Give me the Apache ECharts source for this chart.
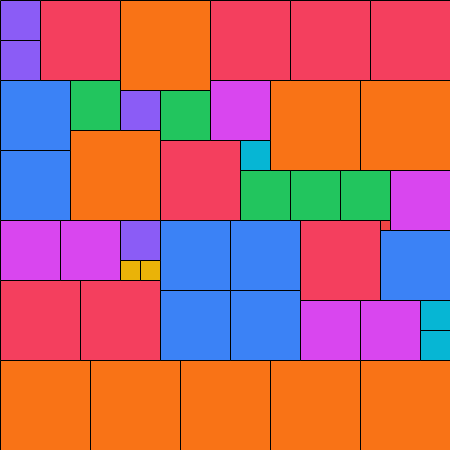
<!DOCTYPE html>
<html>
<head>
<meta charset="utf-8">
<script src="https://cdn.jsdelivr.net/npm/echarts@6/dist/echarts.min.js"></script>
<style>html,body{margin:0;padding:0;background:#fff;}#chart{width:450px;height:450px;}</style>
</head>
<body>
<div id="chart"></div>
<script>
// Partridge-style square packing: category name, colour, side length, top-left corners
const categories = ['orange', 'rose', 'blue', 'fuchsia', 'green', 'violet', 'cyan', 'yellow', 'red'];
const colors = ['#f97316', '#f43f5e', '#3b82f6', '#d946ef', '#22c55e', '#8b5cf6', '#06b6d4', '#eab308', '#ef4444'];
const sides = [90, 80, 70, 60, 50, 40, 30, 20, 10];

const orangeSquares  = [[120,0],[270,80],[360,80],[70,130],[0,360],[90,360],[180,360],[270,360],[360,360]];
const roseSquares    = [[40,0],[210,0],[290,0],[370,0],[160,140],[300,220],[0,280],[80,280]];
const blueSquares    = [[0,80],[0,150],[160,220],[230,220],[160,290],[230,290],[380,230]];
const fuchsiaSquares = [[210,80],[390,170],[0,220],[60,220],[300,300],[360,300]];
const greenSquares   = [[70,80],[160,90],[240,170],[290,170],[340,170]];
const violetSquares  = [[0,0],[0,40],[120,90],[120,220]];
const cyanSquares    = [[240,140],[420,300],[420,330]];
const yellowSquares  = [[120,260],[140,260]];
const redSquares     = [[380,220]];

const squaresByCategory = [orangeSquares, roseSquares, blueSquares, fuchsiaSquares, greenSquares, violetSquares, cyanSquares, yellowSquares, redSquares];

const chart = echarts.init(document.getElementById('chart'), null, {renderer: 'canvas'});

const series = categories.map(function (name, i) {
  return {
    type: 'custom',
    name: name,
    coordinateSystem: 'cartesian2d',
    data: squaresByCategory[i].map(function (p) { return [p[0], p[1], sides[i]]; }),
    encode: {x: 0, y: 1},
    renderItem: function (params, api) {
      const pt = api.coord([api.value(0), api.value(1)]);
      const sz = api.size([api.value(2), api.value(2)]);
      return {
        type: 'rect',
        shape: {x: Math.round(pt[0]) + 0.5, y: Math.round(pt[1]) + 0.5, width: Math.round(sz[0]), height: Math.round(sz[1])},
        style: {fill: colors[i], stroke: '#000', lineWidth: 1}
      };
    }
  };
});

chart.setOption({
  animation: false,
  backgroundColor: '#ffffff',
  grid: {left: 0, right: 0, top: 0, bottom: 0},
  xAxis: {type: 'value', min: 0, max: 450, show: false},
  yAxis: {type: 'value', min: 0, max: 450, inverse: true, show: false},
  series: series
});
</script>
</body>
</html>
